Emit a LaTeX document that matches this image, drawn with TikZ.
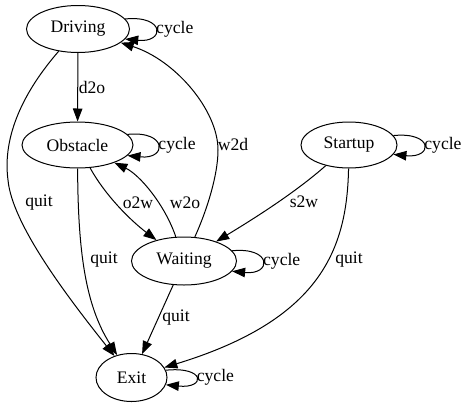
\documentclass[tikz,border=0pt]{standalone}
\usepackage{fontspec}
\newfontfamily\gvfont{Liberation Serif}
\usetikzlibrary{arrows.meta,shapes.geometric,calc}
\begin{document}
\begin{tikzpicture}[x=1pt,y=-1pt,
  state/.style={ellipse,draw,line width=1pt,inner sep=0pt,font=\gvfont\fontsize{17.6}{21}\selectfont},
  conn/.style={draw,line width=1pt,-{Triangle[length=13pt,width=9.5pt]}},
  lbl/.style={inner sep=0pt,font=\gvfont\fontsize{17.6}{21}\selectfont},
  looplbl/.style={lbl,anchor=west,pos=0.5,xshift=0.5pt},
]
\useasboundingbox (0,0) rectangle (465,407);
% states
\node[state,minimum width=103pt,minimum height=47pt] (Driving)  at (78,29)    {Driving};
\node[state,minimum width=111pt,minimum height=46pt] (Obstacle) at (77.5,145) {Obstacle};
\node[state,minimum width=96pt, minimum height=46pt] (Startup)  at (349,145)  {Startup};
\node[state,minimum width=105pt,minimum height=48pt] (Waiting)  at (184,261)  {Waiting};
\node[state,minimum width=71pt, minimum height=48pt] (Exit)     at (131.5,377.5) {Exit};
% self loops
\foreach \s in {Driving,Obstacle,Startup,Waiting,Exit}{
  \draw[conn] (\s.12) .. controls +(40pt,4pt) and +(40pt,-4pt) .. (\s.-12)
     node[looplbl] (cyc\s) {cycle};
}
% transitions
\draw[conn] (Driving) -- (Obstacle);
\node[lbl] (ld2o) at (92,87) {d2o};

\draw[conn] (Driving) .. controls (25,90) and (2,135) .. (8,180)
                      .. controls (12,225) and (70,300) .. (Exit);
\node[lbl] (lq1) at (39,203) {quit};

\draw[conn] (Obstacle) .. controls (78,250) and (85,305) .. (Exit);
\node[lbl] (lq2) at (104,260) {quit};

\draw[conn] (Obstacle) .. controls (105,195) and (130,220) .. (Waiting);
\node[lbl] (lo2w) at (138,203) {o2w};

\draw[conn] (Waiting) .. controls (165,205) and (140,175) .. (Obstacle);
\node[lbl] (lw2o) at (185,203) {w2o};

\draw[conn] (Waiting) .. controls (207,210) and (218,175) .. (218,150)
                      .. controls (218,110) and (175,60) .. (Driving);
\node[lbl] (lw2d) at (233,144) {w2d};

\draw[conn] (Startup) .. controls (296,192) and (255,218) .. (Waiting);
\node[lbl] (ls2w) at (304,202) {s2w};

\draw[conn] (Startup) .. controls (347,250) and (320,320) .. (Exit);
\node[lbl] (lq3) at (349,260) {quit};

\draw[conn] (Waiting) -- (Exit);
\node[lbl] (lq4) at (176,318) {quit};
\end{tikzpicture}
\end{document}
